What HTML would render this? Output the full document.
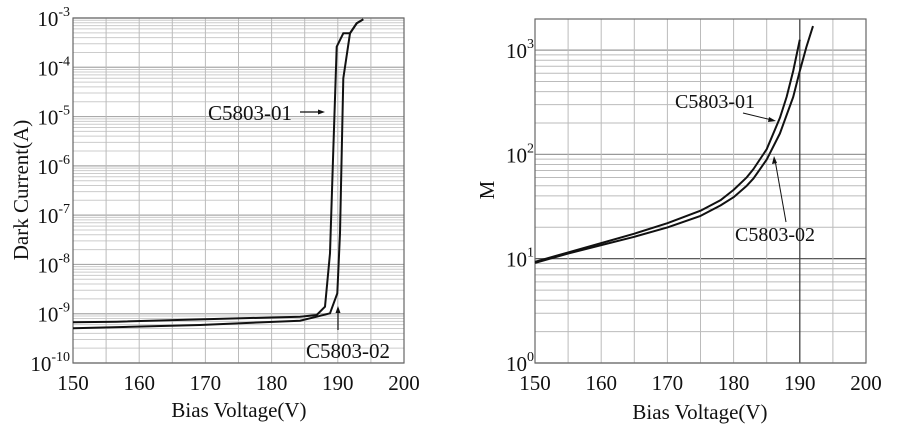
<!DOCTYPE html>
<html><head><meta charset="utf-8"><style>
body{margin:0;background:#fff}
svg{display:block}
text{font-family:"Liberation Serif",serif;fill:#111}
</style></head><body>
<svg id="s" width="900" height="430" viewBox="0 0 900 430"></svg>
<script>
const s=document.getElementById('s');let h='';
function L(x1,y1,x2,y2,c,w){h+=`<line x1="${x1}" y1="${y1}" x2="${x2}" y2="${y2}" stroke="${c}" stroke-width="${w}"/>`;}
function T(x,y,t,sz,a,ff){h+=`<text x="${x}" y="${y}" font-size="${sz}" text-anchor="${a||'start'}"${ff?` font-family="${ff}"`:''}>${t}</text>`;}
// LEFT
const lx0=73,lx1=404,ly0=18,ly1=363,ld=(ly1-ly0)/7;
for(let d=0;d<7;d++){for(let k=2;k<=9;k++){let y=ly1-ld*(d+Math.log10(k));L(lx0,y,lx1,y,'#ccc',1);} }
for(let d=0;d<=7;d++){let y=ly1-ld*d;L(lx0,y,lx1,y,'#aaa',1.2);}
for(let v=155;v<200;v+=5){let x=lx0+(v-150)*(lx1-lx0)/50;L(x,ly0,x,ly1,'#bbb',1);}
h+=`<rect x="${lx0}" y="${ly0}" width="${lx1-lx0}" height="${ly1-ly0}" fill="none" stroke="#666" stroke-width="1.2"/>`;
for(let d=0;d<=7;d++){let y=ly1-ld*d;T(70,y+8,`10<tspan font-size="14" dy="-10">-${10-d}</tspan>`,21,'end');}
for(let v=150;v<=200;v+=10){T(lx0+(v-150)*(lx1-lx0)/50,390,v,21,'middle');}
T(239,417,'Bias Voltage(V)',21,'middle');
h+=`<text transform="translate(28,190) rotate(-90)" font-size="21" text-anchor="middle">Dark Current(A)</text>`;
const A=[[219,967],[350,965],[900,950],[950,945],[975,920],[990,760],[1000,450],[1010,140],[1030,100],[1050,100],[1070,70],[1090,58]];
const B=[[219,985],[600,975],[900,962],[950,950],[990,940],[1012,880],[1020,700],[1030,235],[1050,100],[1070,70],[1090,58]];
for(const P of [A,B])h+=`<polyline fill="none" stroke="#111" stroke-width="2" points="${P.map(p=>(p[0]/3).toFixed(1)+','+(p[1]/3).toFixed(1)).join(' ')}"/>`;
T(208,120,'C5803-01',21);L(300,112,322,112,'#111',1.2);h+='<polygon points="325,112 318,109.5 318,114.5" fill="#111"/>';
T(306,358,'C5803-02',21);L(338,330,338,309,'#111',1.2);h+='<polygon points="338,306 335.5,313 340.5,313" fill="#111"/>';
// RIGHT
const rx0=535,rx1=866,ry0=19,ry1=363,rd=104.3;
for(let d=0;d<4;d++){for(let k=2;k<=9;k++){let y=ry1-rd*(d+Math.log10(k));if(y>ry0)L(rx0,y,rx1,y,'#bbb',1);} }
for(let d=0;d<=3;d++){let y=ry1-rd*d;L(rx0,y,rx1,y,d==1?'#444':'#999',1.2);}
for(let v=155;v<200;v+=5){let x=rx0+(v-150)*(rx1-rx0)/50;L(x,ry0,x,ry1,v==190?'#444':'#bbb',v==190?1.3:1);}
h+=`<rect x="${rx0}" y="${ry0}" width="${rx1-rx0}" height="${ry1-ry0}" fill="none" stroke="#666" stroke-width="1.2"/>`;
for(let d=0;d<=3;d++){let y=ry1-rd*d;T(534,y+8,`10<tspan font-size="14" dy="-10">${d}</tspan>`,21,'end');}
for(let v=150;v<=200;v+=10){T(rx0+(v-150)*(rx1-rx0)/50,390,v,21,'middle');}
T(700,419,'Bias Voltage(V)',21,'middle');
h+=`<text transform="translate(494,190) rotate(-90)" font-size="21" text-anchor="middle">M</text>`;
const c1=[[150,.97],[155,1.06],[160,1.15],[165,1.24],[170,1.34],[175,1.46],[178,1.56],[180,1.66],[182,1.78],[183,1.86],[185,2.05],[187,2.35],[188,2.55],[189,2.8],[190,3.1]];
const c2=[[150,.96],[155,1.05],[160,1.13],[165,1.21],[170,1.30],[175,1.41],[178,1.51],[180,1.59],[182,1.70],[183,1.77],[185,1.95],[187,2.2],[189,2.55],[190,2.8],[191,3.03],[192,3.23]];
for(const P of [c1,c2])h+=`<polyline fill="none" stroke="#111" stroke-width="2" stroke-linejoin="round" points="${P.map(p=>(rx0+(p[0]-150)*(rx1-rx0)/50).toFixed(1)+','+(ry1-rd*p[1]).toFixed(1)).join(' ')}"/>`;
T(675,108,'C5803-01',20);L(743,113,772,120,'#111',1);h+='<polygon points="776,121 769,117 768,122" fill="#111"/>';
T(735,241,'C5803-02',20);L(786,222,775,160,'#111',1);h+='<polygon points="774,156 772,164 777,163" fill="#111"/>';
s.innerHTML=h;
</script>
</body></html>
